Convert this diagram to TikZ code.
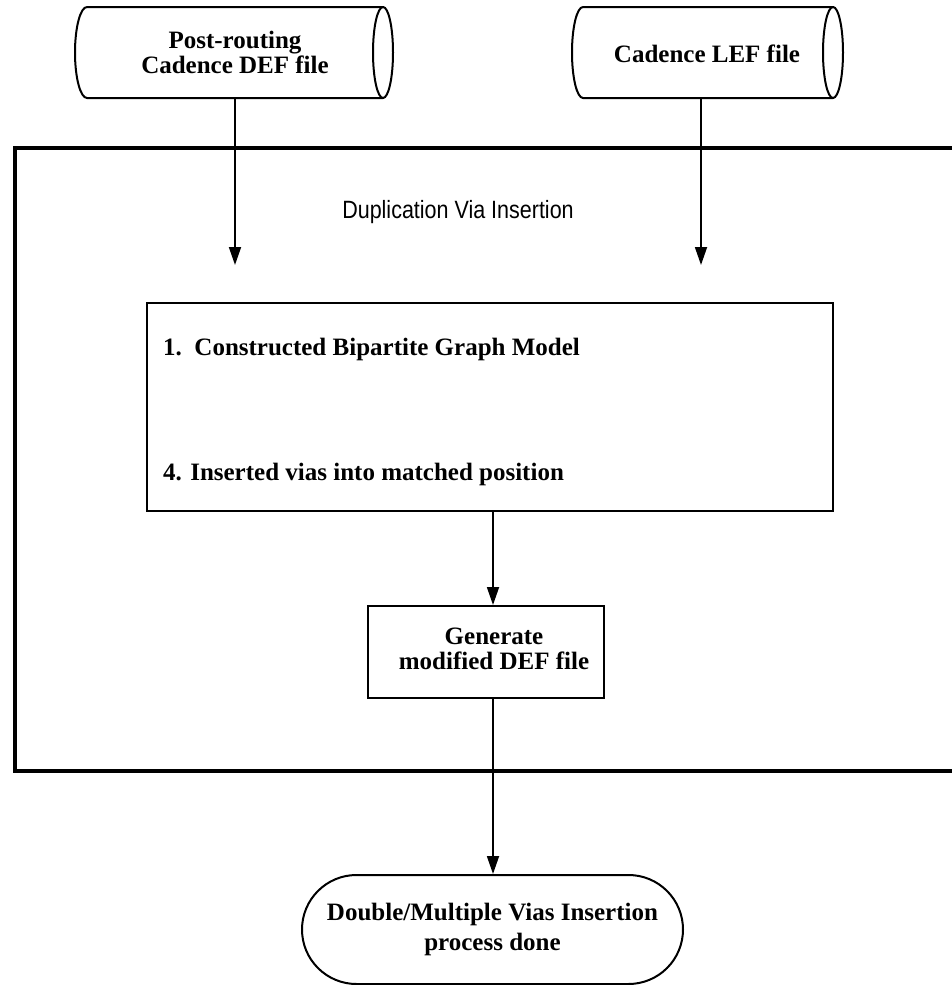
\documentclass[tikz,border=0pt]{standalone}
\usepackage{fontspec}
\setmainfont{Liberation Serif}
\newfontfamily\titlefont{Liberation Sans}
\usetikzlibrary{arrows.meta}
\begin{document}
\begin{tikzpicture}[x=1pt,y=-1pt,
  lbl/.style={font=\fontsize{25}{25}\selectfont\bfseries, align=center, inner sep=0pt},
  outline/.style={line width=2pt, line join=miter},
  frame/.style={line width=4pt},
  flow/.style={line width=1.8pt, -{Triangle[length=18pt,width=12pt]}},
]
\path[use as bounding box] (0,0) rectangle (952,985);
\clip (0,0) rectangle (952,985);

% input files drawn as horizontal cylinders (y axis points down here)
\draw[outline] (87,7) -- (383,7)
  arc[start angle=-90, end angle=90, x radius=10, y radius=45.5]
  -- (87,98) arc[start angle=90, end angle=270, x radius=12, y radius=45.5];
\draw[outline] (383,7) arc[start angle=270, end angle=90, x radius=10, y radius=45.5];
\node[lbl] (def) at (235,52.2) {Post-routing\\Cadence DEF file};
\coordinate (defout) at (235,98);

\draw[outline] (583,7) -- (833,7)
  arc[start angle=-90, end angle=90, x radius=10, y radius=45.5]
  -- (583,98) arc[start angle=90, end angle=270, x radius=11, y radius=45.5];
\draw[outline] (833,7) arc[start angle=270, end angle=90, x radius=10, y radius=45.5];
\node[lbl, anchor=base] (lef) at (707,62) {Cadence LEF file};
\coordinate (lefout) at (701,98);

% enclosing frame of the insertion stage (open to the right)
\draw[frame] (970,148) -- (14.5,148) -- (14.5,770.5) -- (970,770.5);
\node[font=\fontsize{25}{25}\titlefont, anchor=base, inner sep=0pt] (title) at (458,218)
  {\scalebox{0.86}[1]{Duplication Via Insertion}};

\coordinate (defin) at (235,265);
\coordinate (lefin) at (701,265);
\draw[flow] (defout) -- (defin);
\draw[flow] (lefout) -- (lefin);

% step list box
\node[draw, outline, minimum width=686pt, minimum height=208pt, inner sep=0pt, anchor=north west]
  (steps) at (146,302) {};
\node[lbl, anchor=base west] (stepa) at (163,355) {1.\ \ Constructed Bipartite Graph Model};
\node[lbl, anchor=base west] (stepd) at (163,480) {4. Inserted vias into matched position};

% output generation
\node[draw, outline, minimum width=236pt, minimum height=92pt, inner sep=0pt, anchor=north west]
  (gen) at (367,605) {};
\node[lbl] (gentext) at (494,649) {Generate\\modified DEF file};
\coordinate (stepsout) at (493,510);
\draw[flow] (stepsout) -- (stepsout |- gen.north);

% terminator
\node[draw, outline, minimum width=381pt, minimum height=109pt, inner sep=0pt,
  rounded corners=54.5pt, anchor=north] (done) at (492.5,874) {};
\node[lbl, font=\fontsize{25}{30}\selectfont\bfseries] (donetext) at (492.5,929)
  {Double/Multiple Vias Insertion\\process done};
\coordinate (genout) at (493,697);
\draw[flow] (genout) -- (genout |- done.north);
\end{tikzpicture}
\end{document}
